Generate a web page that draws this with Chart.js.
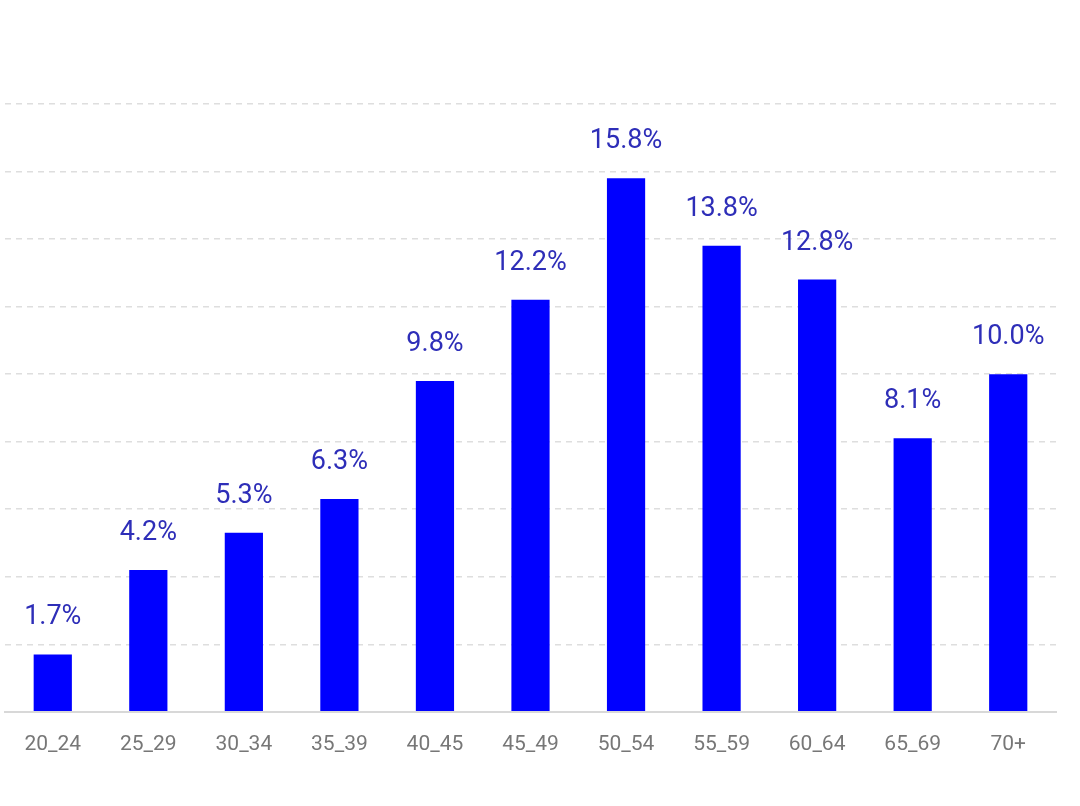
<!DOCTYPE html>
<html>
<head>
<meta charset="utf-8">
<script src="https://cdn.jsdelivr.net/npm/chart.js@4"></script>
<style>
  html, body { margin: 0; padding: 0; background: #fff; }
  #wrap { width: 1080px; height: 806px; }
</style>
</head>
<body>
<div id="wrap"><canvas id="chart" width="1080" height="806"></canvas></div>
<script>
// age groups and their share (%)
const ageGroups = ['20_24', '25_29', '30_34', '35_39', '40_45', '45_49', '50_54', '55_59', '60_64', '65_69', '70+'];
const shares = [1.7, 4.2, 5.3, 6.3, 9.8, 12.2, 15.8, 13.8, 12.8, 8.1, 10.0];
const yTicks = [0, 2, 4, 6, 8, 10, 12, 14, 16, 18];

// value labels above bars
const valueLabels = {
    id: 'valueLabels',
    afterDatasetsDraw(chart) {
        const ctx = chart.ctx;
        const meta = chart.getDatasetMeta(0);
        ctx.save();
        ctx.font = '27px Roboto';
        ctx.fillStyle = '#2e2eb8';
        ctx.textAlign = 'center';
        ctx.textBaseline = 'alphabetic';
        meta.data.forEach((bar, i) => {
            ctx.fillText(shares[i].toFixed(1) + '%', bar.x, bar.y - 30);
        });
        ctx.restore();
    }
};

new Chart(document.getElementById('chart'), {
    type: 'bar',
    data: {
        labels: ageGroups,
        datasets: [{
            data: shares,
            backgroundColor: '#0000ff',
            categoryPercentage: 1,
            barPercentage: 0.4
        }]
    },
    options: {
        responsive: false,
        animation: false,
        layout: { padding: { left: 5, right: 24, top: 104, bottom: 37 } },
        plugins: { legend: { display: false }, tooltip: { enabled: false } },
        scales: {
            x: {
                grid: { display: false },
                border: { display: true, color: '#d8d8d8', width: 2 },
                ticks: { color: '#777', font: { family: 'Roboto', size: 21 }, padding: 12 }
            },
            y: {
                min: 0,
                max: 18,
                afterBuildTicks: axis => { axis.ticks = yTicks.map(v => ({ value: v })); },
                ticks: { display: false },
                border: { display: false, dash: [6, 5] },
                grid: {
                    drawTicks: false,
                    lineWidth: 1.5,
                    color: c => c.tick && c.tick.value === 0 ? 'rgba(0,0,0,0)' : '#dedede'
                }
            }
        }
    },
    plugins: [valueLabels]
});
</script>
</body>
</html>
